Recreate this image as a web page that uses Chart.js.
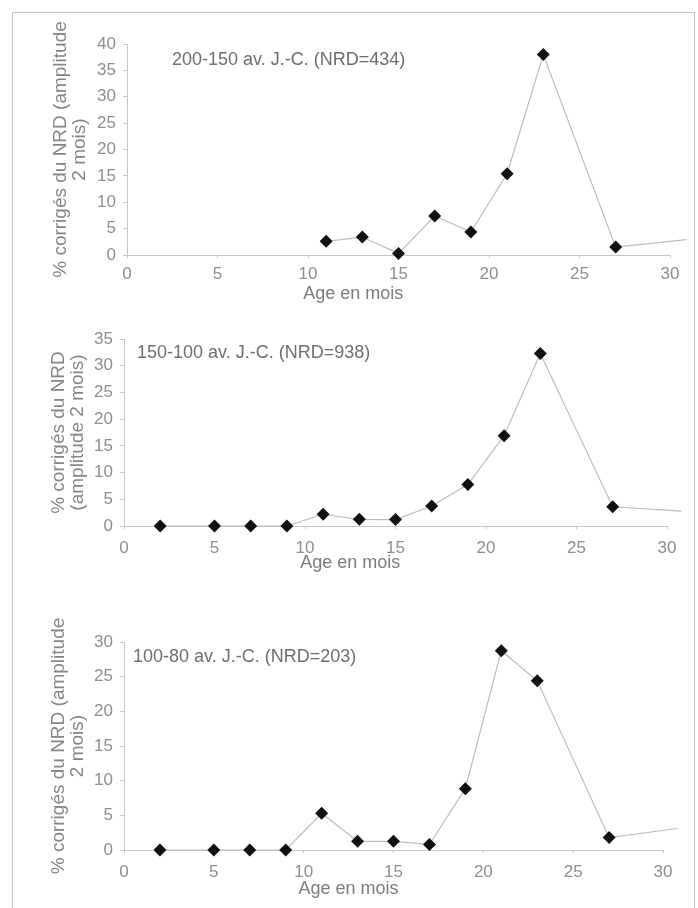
<!DOCTYPE html>
<html>
<head>
<meta charset="utf-8">
<script src="https://cdn.jsdelivr.net/npm/chart.js@4.4.1/dist/chart.umd.min.js"></script>
<style>
  html, body { margin:0; padding:0; background:#fff; }
  body { width:698px; height:908px; position:relative; overflow:hidden; }
  #frame { position:absolute; left:12px; top:12px; width:681px; height:1000px; border:1px solid #c4c4c4; }
  canvas { position:absolute; left:0; }
</style>
</head>
<body>
<div id="frame"></div>
<canvas id="c1" width="698" height="315" style="top:0"></canvas>
<canvas id="c2" width="698" height="290" style="top:320px"></canvas>
<canvas id="c3" width="698" height="298" style="top:610px"></canvas>
<script>
// Trois périodes : % corrigés du NRD par classe d'âge (mois)
// le dernier point de chaque série est la suite de la courbe, hors cadre, sans marqueur

const ages1 = [11, 13, 15, 17, 19, 21, 23, 27, 30.9];
const vals1 = [2.6, 3.4, 0.3, 7.4, 4.35, 15.4, 38.0, 1.5, 2.9];

const ages2 = [2, 5, 7, 9, 11, 13, 15, 17, 19, 21, 23, 27, 30.8];
const vals2 = [0, 0, 0, 0, 2.2, 1.25, 1.2, 3.75, 7.75, 16.9, 32.3, 3.6, 2.8];

const ages3 = [2, 5, 7, 9, 11, 13, 15, 17, 19, 21, 23, 27, 30.8];
const vals3 = [0, 0, 0, 0, 5.3, 1.25, 1.25, 0.8, 8.85, 28.75, 24.4, 1.8, 3.1];

const xTicks = [0, 5, 10, 15, 20, 25, 30];
const periodes = ['200-150 av. J.-C. (NRD=434)', '150-100 av. J.-C. (NRD=938)', '100-80 av. J.-C. (NRD=203)'];
const yMax = [40, 35, 30];
const yTitres = [
  ['% corrigés du NRD (amplitude', '2 mois)'],
  ['% corrigés du NRD', '(amplitude 2 mois)'],
  ['% corrigés du NRD (amplitude', '2 mois)']
];
const xTitre = 'Age en mois';

const FONT = '"Liberation Sans", Arial, sans-serif';
const GRIS = '#c6c6c6';

// textes dans le graphique (période + titre de l'axe x, décalé à gauche comme l'original)
const notesPlugin = {
  id: 'notes',
  afterDraw(chart, args, opts) {
    const { ctx, chartArea } = chart;
    const x = chart.scales.x;
    ctx.save();
    ctx.font = '18px ' + FONT;
    ctx.fillStyle = '#6e6e6e';
    ctx.textBaseline = 'middle';
    ctx.textAlign = 'left';
    ctx.fillText(opts.periode, chartArea.left + opts.dx, chartArea.top + opts.dy);
    ctx.fillStyle = '#7c7c7c';
    ctx.textAlign = 'center';
    ctx.fillText(xTitre, x.getPixelForValue(12.5), chartArea.bottom + opts.titreY);
    ctx.restore();
  }
};

function makeChart(id, ages, vals, i, lay) {
  const last = ages.length - 1;
  return new Chart(document.getElementById(id), {
    type: 'line',
    data: {
      datasets: [{
        data: ages.map((a, k) => ({ x: a, y: vals[k] })),
        borderColor: '#bdbdbd',
        borderWidth: 1.2,
        tension: 0,
        clip: false,
        pointStyle: 'rectRot',
        pointRadius: c => c.dataIndex === last ? 0 : 6.5,
        pointBackgroundColor: '#111',
        pointBorderColor: '#111',
        pointBorderWidth: 0
      }]
    },
    options: {
      responsive: false,
      animation: false,
      events: [],
      layout: { padding: { top: lay.top, right: lay.right, left: 0, bottom: 0 } },
      scales: {
        x: {
          type: 'linear', min: 0, max: 30,
          afterFit: s => { s.height = lay.xh; },
          afterBuildTicks: s => { s.ticks = xTicks.map(v => ({ value: v })); },
          grid: { drawOnChartArea: false, color: GRIS, tickLength: 3 },
          border: { color: GRIS },
          ticks: { color: '#8e8e8e', font: { family: FONT, size: 17 }, padding: lay.xpad, maxRotation: 0 }
        },
        y: {
          min: 0, max: yMax[i],
          afterFit: s => { s.width = lay.left; },
          grid: { drawOnChartArea: false, color: GRIS, tickLength: 4 },
          border: { color: GRIS },
          ticks: { stepSize: 5, color: '#8e8e8e', font: { family: FONT, size: 17 }, padding: 7 },
          title: {
            display: true, text: yTitres[i], color: '#858585',
            font: { family: FONT, size: 19, lineHeight: 1 }, padding: { top: lay.tpad, bottom: 0 }
          }
        }
      },
      plugins: {
        legend: { display: false },
        tooltip: { enabled: false },
        notes: { periode: periodes[i], dx: lay.dx, dy: lay.dy, titreY: lay.ty }
      }
    },
    plugins: [notesPlugin]
  });
}

makeChart('c1', ages1, vals1, 0, { top: 44, right: 28, left: 127, xh: 60, xpad: 6, tpad: 51, dx: 45, dy: 16, ty: 39 });
makeChart('c2', ages2, vals2, 1, { top: 19, right: 31, left: 124, xh: 84, xpad: 9, tpad: 49, dx: 13, dy: 14, ty: 37 });
makeChart('c3', ages3, vals3, 2, { top: 32, right: 35, left: 124, xh: 58, xpad: 9, tpad: 49, dx: 9, dy: 15, ty: 39 });
</script>
</body>
</html>
